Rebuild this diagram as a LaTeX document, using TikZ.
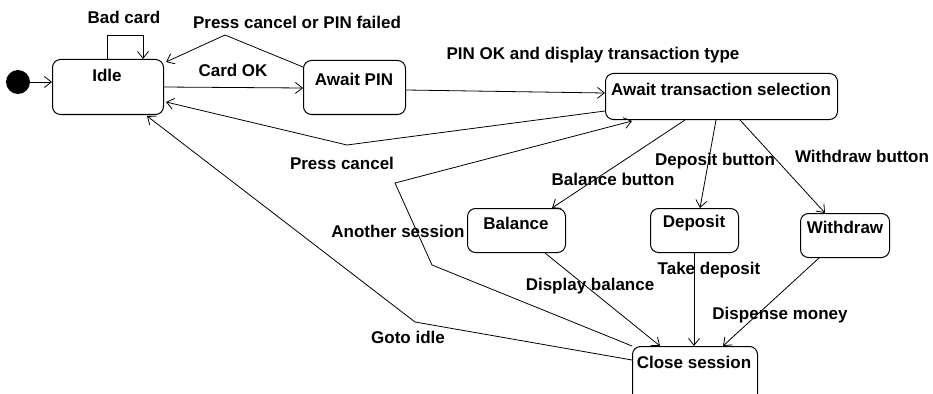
\documentclass[tikz,border=0pt]{standalone}
\usepackage{fontspec}
\setmainfont{Liberation Sans}
\usetikzlibrary{arrows.meta,calc}
\begin{document}
\begin{tikzpicture}[x=1pt,y=-1pt,
  statebox/.style={draw, line width=1pt, rounded corners=8pt, anchor=north west, inner sep=0pt},
  lbl/.style={font=\fontsize{17}{20}\selectfont\bfseries, inner sep=0pt},
  arr/.style={draw, line width=0.8pt, -{Straight Barb[length=7pt,width=11pt,line width=0.8pt]}},
  ln/.style={draw, line width=0.8pt}]
\useasboundingbox (0,0) rectangle (933,393);
% states
\node[fill=black, circle, minimum size=24pt, inner sep=0pt] (start) at (18,82) {};
\node[statebox, minimum width=111pt, minimum height=55pt] (idle) at (52,59) {};
\node[statebox, minimum width=102pt, minimum height=54pt] (pin) at (303,60) {};
\node[statebox, minimum width=232pt, minimum height=46pt] (trans) at (605,73) {};
\node[statebox, minimum width=98pt, minimum height=44pt] (bal) at (467,208) {};
\node[statebox, minimum width=88pt, minimum height=44pt] (dep) at (650,208) {};
\node[statebox, minimum width=89pt, minimum height=44pt] (wd) at (800,213) {};
\node[statebox, minimum width=125pt, minimum height=56pt] (close) at (632,346) {};
% state texts
\node[lbl] (tidle) at (107,75) {Idle};
\node[lbl] (tpin) at (354,79) {Await PIN};
\node[lbl] (ttrans) at (721,89) {Await transaction selection};
\node[lbl] (tbal) at (516,223) {Balance};
\node[lbl] (tdep) at (694,223) {Deposit};
\node[lbl] (twd) at (845,227) {Withdraw};
\node[lbl] (tclose) at (694,362) {Close session};
% bend points
\coordinate (c1) at (225,35);
\coordinate (c2) at (347,145);
\coordinate (c3) at (432,265);
\coordinate (c4) at (395,183);
\coordinate (c5) at (415,322);
% connectors
\draw[arr] (start.east) -- ($(idle.north west)+(0,23)$);
\draw[arr] ($(idle.north west)+(55,0)$) -- ++(0,-24) -- ++(36,0) -- ($(idle.north west)+(91,0)$);
\draw[arr] ($(idle.north west)+(111,28)$) -- ($(pin.north west)+(0,28)$);
\draw[arr] ($(pin.north west)+(0,7)$) -- (c1) -- ($(idle.north east)+(2,3)$);
\draw[arr] ($(pin.north east)+(0,30)$) -- ($(trans.north west)+(0,20)$);
\draw[arr] ($(trans.north west)+(0,38)$) -- (c2) -- ($(idle.north east)+(2,43)$);
\draw[arr] (close.north west) -- (c3) -- (c4) -- ($(trans.south west)+(27,1)$);
\draw[arr] ($(close.north west)+(0,14)$) -- (c5) -- ($(idle.south west)+(95,1)$);
\draw[arr] ($(trans.south west)+(80,0)$) -- ($(bal.north west)+(85,0)$);
\draw[arr] ($(trans.south west)+(111,0)$) -- ($(dep.north west)+(50,0)$);
\draw[arr] ($(trans.south west)+(135,0)$) -- ($(wd.north west)+(25,0)$);
\draw[arr] ($(bal.south west)+(78,0)$) -- ($(close.north west)+(28,0)$);
\draw[arr] ($(dep.south west)+(44,0)$) -- ($(close.north west)+(62,0)$);
\draw[arr] ($(wd.south west)+(19,0)$) -- ($(close.north west)+(91,0)$);
% transition labels
\node[lbl] (lbad) at (124,17) {Bad card};
\node[lbl] (lpcf) at (297,22) {Press cancel or PIN failed};
\node[lbl] (lcard) at (233,70) {Card OK};
\node[lbl] (lpinok) at (593,55) {PIN OK and display transaction type};
\node[lbl] (lpc) at (342,163) {Press cancel};
\node[lbl] (lbb) at (613,179) {Balance button};
\node[lbl] (ldb) at (715,161) {Deposit button};
\node[lbl] (lwb) at (862,156) {Withdraw button};
\node[lbl] (las) at (398,231) {Another session};
\node[lbl] (ldisp) at (590,286) {Display balance};
\node[lbl] (ltake) at (709,270) {Take deposit};
\node[lbl] (ldm) at (780,315) {Dispense money};
\node[lbl] (lgoto) at (408,337) {Goto idle};
\end{tikzpicture}
\end{document}
